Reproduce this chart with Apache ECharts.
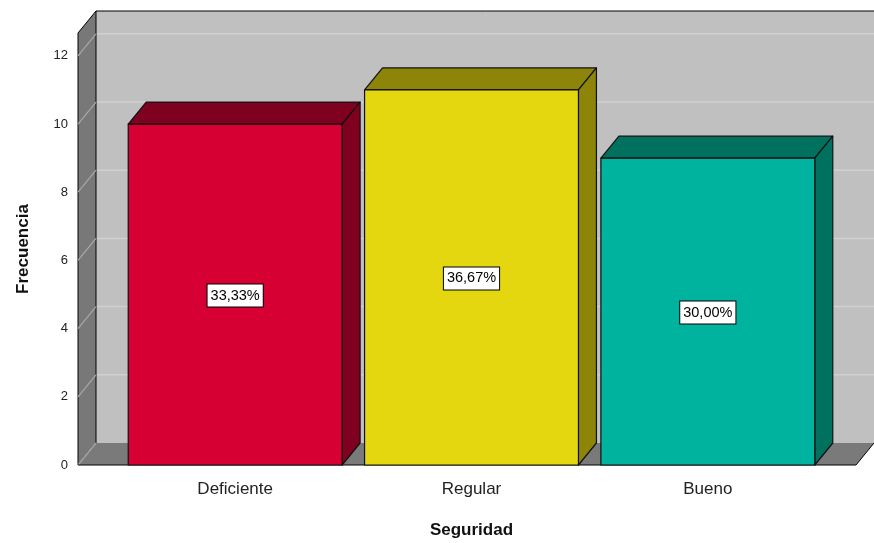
<!DOCTYPE html>
<html>
<head>
<meta charset="utf-8">
<script src="https://cdn.jsdelivr.net/npm/echarts@6/dist/echarts.min.js"></script>
<style>html,body{margin:0;padding:0;background:#fff;}#c{width:874px;height:543px;}</style>
</head>
<body>
<div id="c"></div>
<script>
var categories = ['Deficiente', 'Regular', 'Bueno'];
var frecuencia = [10, 11, 9];
var porcentajes = ['33,33%', '36,67%', '30,00%'];
var yTicks = [0, 2, 4, 6, 8, 10, 12];

var frontColors = ['#D70032', '#E4D60F', '#00B39F'];
var sideColors = ['#800020', '#8C850A', '#00705F'];
var DX = 18, DY = -22;
var LEFT_PAD = 39, RIGHT_PAD = 30;
var FONT = '"Liberation Sans", Arial, sans-serif';

var chart = echarts.init(document.getElementById('c'));

function renderWalls(params, api) {
  var cs = params.coordSys;
  var x0 = cs.x - LEFT_PAD;
  var xr = cs.x + cs.width + RIGHT_PAD;
  var yb = api.coord([0, 0])[1];
  var yt = cs.y;
  var W = api.getWidth();
  var children = [];
  children.push({type: 'polygon', shape: {points: [[x0 + DX, yt + DY], [W + 5, yt + DY], [W + 5, yb + DY], [x0 + DX, yb + DY]]},
    style: {fill: '#C0C0C0', stroke: null}});
  for (var i = 1; i < yTicks.length; i++) {
    var y = api.coord([0, yTicks[i]])[1];
    children.push({type: 'line', shape: {x1: x0 + DX, y1: y + DY, x2: W + 5, y2: y + DY}, style: {stroke: '#D0D0D0', lineWidth: 1.5}});
  }
  children.push({type: 'polygon', shape: {points: [[x0, yb], [x0, yt], [x0 + DX, yt + DY], [x0 + DX, yb + DY]]},
    style: {fill: '#787878', stroke: '#000', lineWidth: 1}});
  for (var j = 1; j < yTicks.length; j++) {
    var y2 = api.coord([0, yTicks[j]])[1];
    children.push({type: 'line', shape: {x1: x0, y1: y2, x2: x0 + DX, y2: y2 + DY}, style: {stroke: '#A8A8A8', lineWidth: 1.2}});
  }
  children.push({type: 'polygon', shape: {points: [[x0, yb], [x0 + DX, yb + DY], [W + 5, yb + DY], [W + 5, yb + DY], [xr + DX, yb + DY], [xr, yb]]},
    style: {fill: '#7A7A7A', stroke: null}});
  children.push({type: 'line', shape: {x1: x0, y1: yb, x2: x0 + DX, y2: yb + DY}, style: {stroke: '#A8A8A8', lineWidth: 1.2}});
  children.push({type: 'line', shape: {x1: xr, y1: yb, x2: xr + DX, y2: yb + DY}, style: {stroke: '#000', lineWidth: 1}});
  children.push({type: 'line', shape: {x1: x0, y1: yb, x2: xr, y2: yb}, style: {stroke: '#000', lineWidth: 1.2}});
  children.push({type: 'line', shape: {x1: x0 + DX, y1: yt + DY, x2: W + 5, y2: yt + DY}, style: {stroke: '#000', lineWidth: 1}});
  return {type: 'group', children: children};
}

function renderBar(params, api) {
  var idx = api.value(0);
  var val = api.value(1);
  var top = api.coord([idx, val]);
  var bot = api.coord([idx, 0]);
  var w = api.size([1, 0])[0] * 0.905;
  var x1 = top[0] - w / 2, x2 = top[0] + w / 2;
  var yT = top[1], yB = bot[1];
  var mid = api.coord([idx, val / 2]);
  var stroke = {stroke: '#111', lineWidth: 1.2, lineJoin: 'round'};
  return {
    type: 'group',
    children: [
      {type: 'polygon', shape: {points: [[x1, yT], [x1 + DX, yT + DY], [x2 + DX, yT + DY], [x2, yT]]},
        style: Object.assign({fill: sideColors[idx]}, stroke)},
      {type: 'polygon', shape: {points: [[x2, yT], [x2 + DX, yT + DY], [x2 + DX, yB + DY], [x2, yB]]},
        style: Object.assign({fill: sideColors[idx]}, stroke)},
      {type: 'rect', shape: {x: x1, y: yT, width: w, height: yB - yT},
        style: Object.assign({fill: frontColors[idx]}, stroke)},
      {type: 'text', x: mid[0], y: mid[1] + 1,
        style: {text: porcentajes[idx], fill: '#000', font: '14.5px ' + FONT, align: 'center', verticalAlign: 'middle',
          backgroundColor: '#fff', borderColor: '#000', borderWidth: 1, padding: [4, 3, 3, 3]}}
    ]
  };
}

chart.setOption({
  animation: false,
  backgroundColor: '#fff',
  grid: {left: 117, right: 48, top: 33, bottom: 78, outerBoundsMode: 'none', containLabel: false},
  xAxis: {
    type: 'category', data: categories,
    axisLine: {show: false}, axisTick: {show: false}, splitLine: {show: false},
    axisLabel: {color: '#222', fontSize: 17, fontFamily: FONT, margin: 16},
    name: 'Seguridad', nameLocation: 'middle', nameGap: 57,
    nameTextStyle: {color: '#111', fontSize: 17, fontWeight: 'bold', fontFamily: FONT}
  },
  yAxis: {
    type: 'value', min: 0, max: 12.67, interval: 2,
    axisLine: {show: false}, axisTick: {show: false}, splitLine: {show: false},
    axisLabel: {color: '#222', fontSize: 13, fontFamily: FONT, margin: 49,
      formatter: function (v) { return yTicks.indexOf(v) >= 0 ? String(v) : ''; }},
    name: 'Frecuencia', nameLocation: 'middle', nameGap: 85, nameRotate: 90,
    nameTextStyle: {color: '#111', fontSize: 17, fontWeight: 'bold', fontFamily: FONT}
  },
  series: [
    {type: 'custom', renderItem: renderWalls, data: [[0, 0]], silent: true, z: 1},
    {type: 'custom', renderItem: renderBar, z: 2,
      data: frecuencia.map(function (v, i) { return [i, v]; })}
  ]
});
</script>
</body>
</html>
